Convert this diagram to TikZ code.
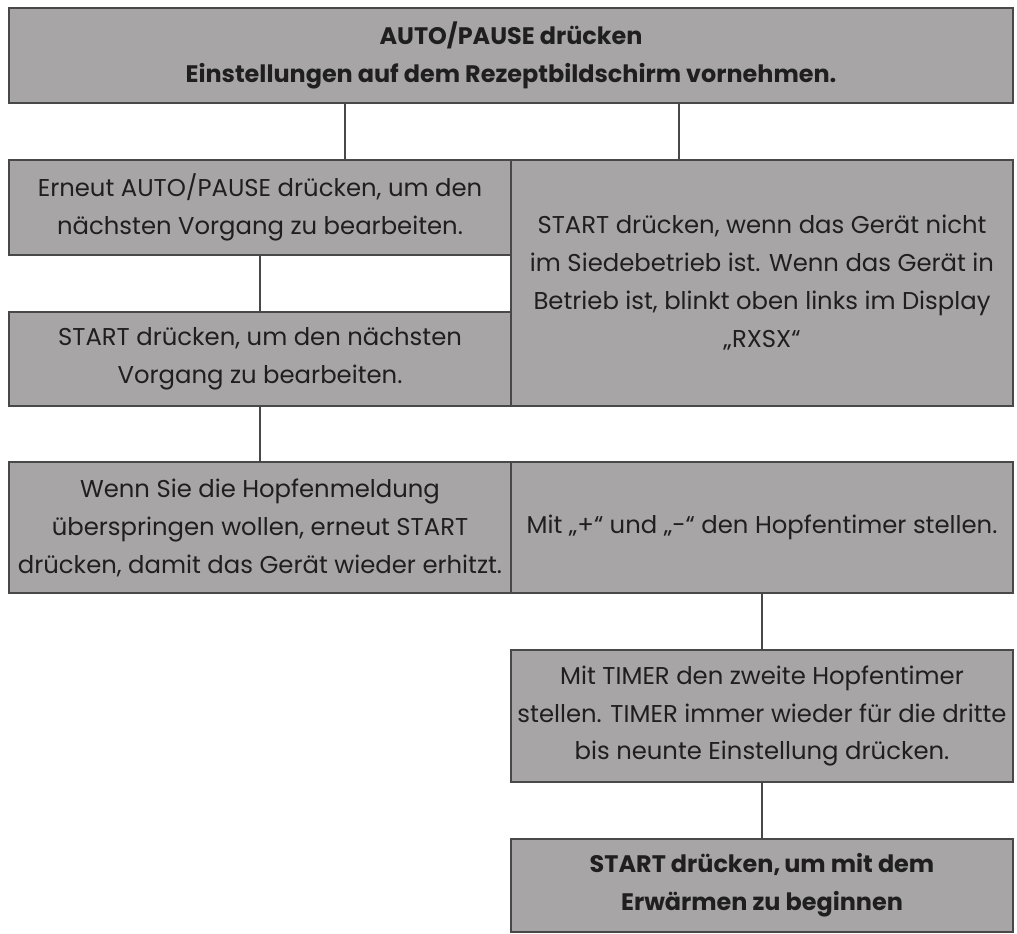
\documentclass[tikz,border=0pt]{standalone}
\usepackage{fontspec}
\setmainfont{Poppins}
\usetikzlibrary{positioning}
\definecolor{boxgray}{RGB}{167,165,166}
\definecolor{edgegray}{RGB}{72,72,72}
\tikzset{
  stepbox/.style={draw=edgegray, fill=boxgray, line width=1.3pt, align=center,
    inner sep=0pt, text=black!88, font=\fontsize{17.3}{27}\selectfont},
  boldbox/.style={stepbox, font=\fontsize{17}{27}\selectfont\bfseries},
  link/.style={draw=edgegray, line width=1.3pt}
}
\begin{document}
\begin{tikzpicture}
\useasboundingbox (0,0) rectangle (25.425,23.35);
% top
\node[boldbox, minimum width=25.1cm, minimum height=2.375cm] (auto) at (12.775,21.9625)
  {AUTO/PAUSE drücken\\Einstellungen auf dem Rezeptbildschirm vornehmen.};
% second row
\node[stepbox, minimum width=12.55cm, minimum height=2.375cm] (erneut) at (6.5,18.1625)
  {Erneut AUTO/PAUSE drücken, um den\\nächsten Vorgang zu bearbeiten.};
\node[stepbox, minimum width=12.55cm, minimum height=6.15cm] (geraet) at (19.05,16.275)
  {START drücken, wenn das Gerät nicht\\im Siedebetrieb ist. Wenn das Gerät in\\Betrieb ist, blinkt oben links im Display\\„RXSX“};
\node[stepbox, minimum width=12.55cm, minimum height=2.35cm] (naechst) at (6.5,14.375)
  {START drücken, um den nächsten\\Vorgang zu bearbeiten.};
% third row
\node[stepbox, minimum width=12.55cm, minimum height=3.275cm] (hopfen) at (6.5,10.1625)
  {Wenn Sie die Hopfenmeldung\\überspringen wollen, erneut START\\drücken, damit das Gerät wieder erhitzt.};
\node[stepbox, minimum width=12.55cm, minimum height=3.275cm] (plusminus) at (19.05,10.1625)
  {Mit „+“ und „-“ den Hopfentimer stellen.};
% timer
\node[stepbox, minimum width=12.55cm, minimum height=3.3cm] (timer) at (19.05,5.45)
  {Mit TIMER den zweite Hopfentimer\\stellen. TIMER immer wieder für die dritte\\bis neunte Einstellung drücken.};
\node[boldbox, minimum width=12.55cm, minimum height=2.325cm] (erwaermen) at (19.05,1.2125)
  {START drücken,\,um mit dem\\Erwärmen zu beginnen};
% links
\draw[link] (auto.south -| 8.625,0) -- (erneut.north -| 8.625,0);
\draw[link] (auto.south -| 16.975,0) -- (geraet.north -| 16.975,0);
\draw[link] (erneut) -- (naechst);
\draw[link] (naechst.south) -- (hopfen.north);
\draw[link] (plusminus) -- (timer);
\draw[link] (timer) -- (erwaermen);
\end{tikzpicture}
\end{document}
